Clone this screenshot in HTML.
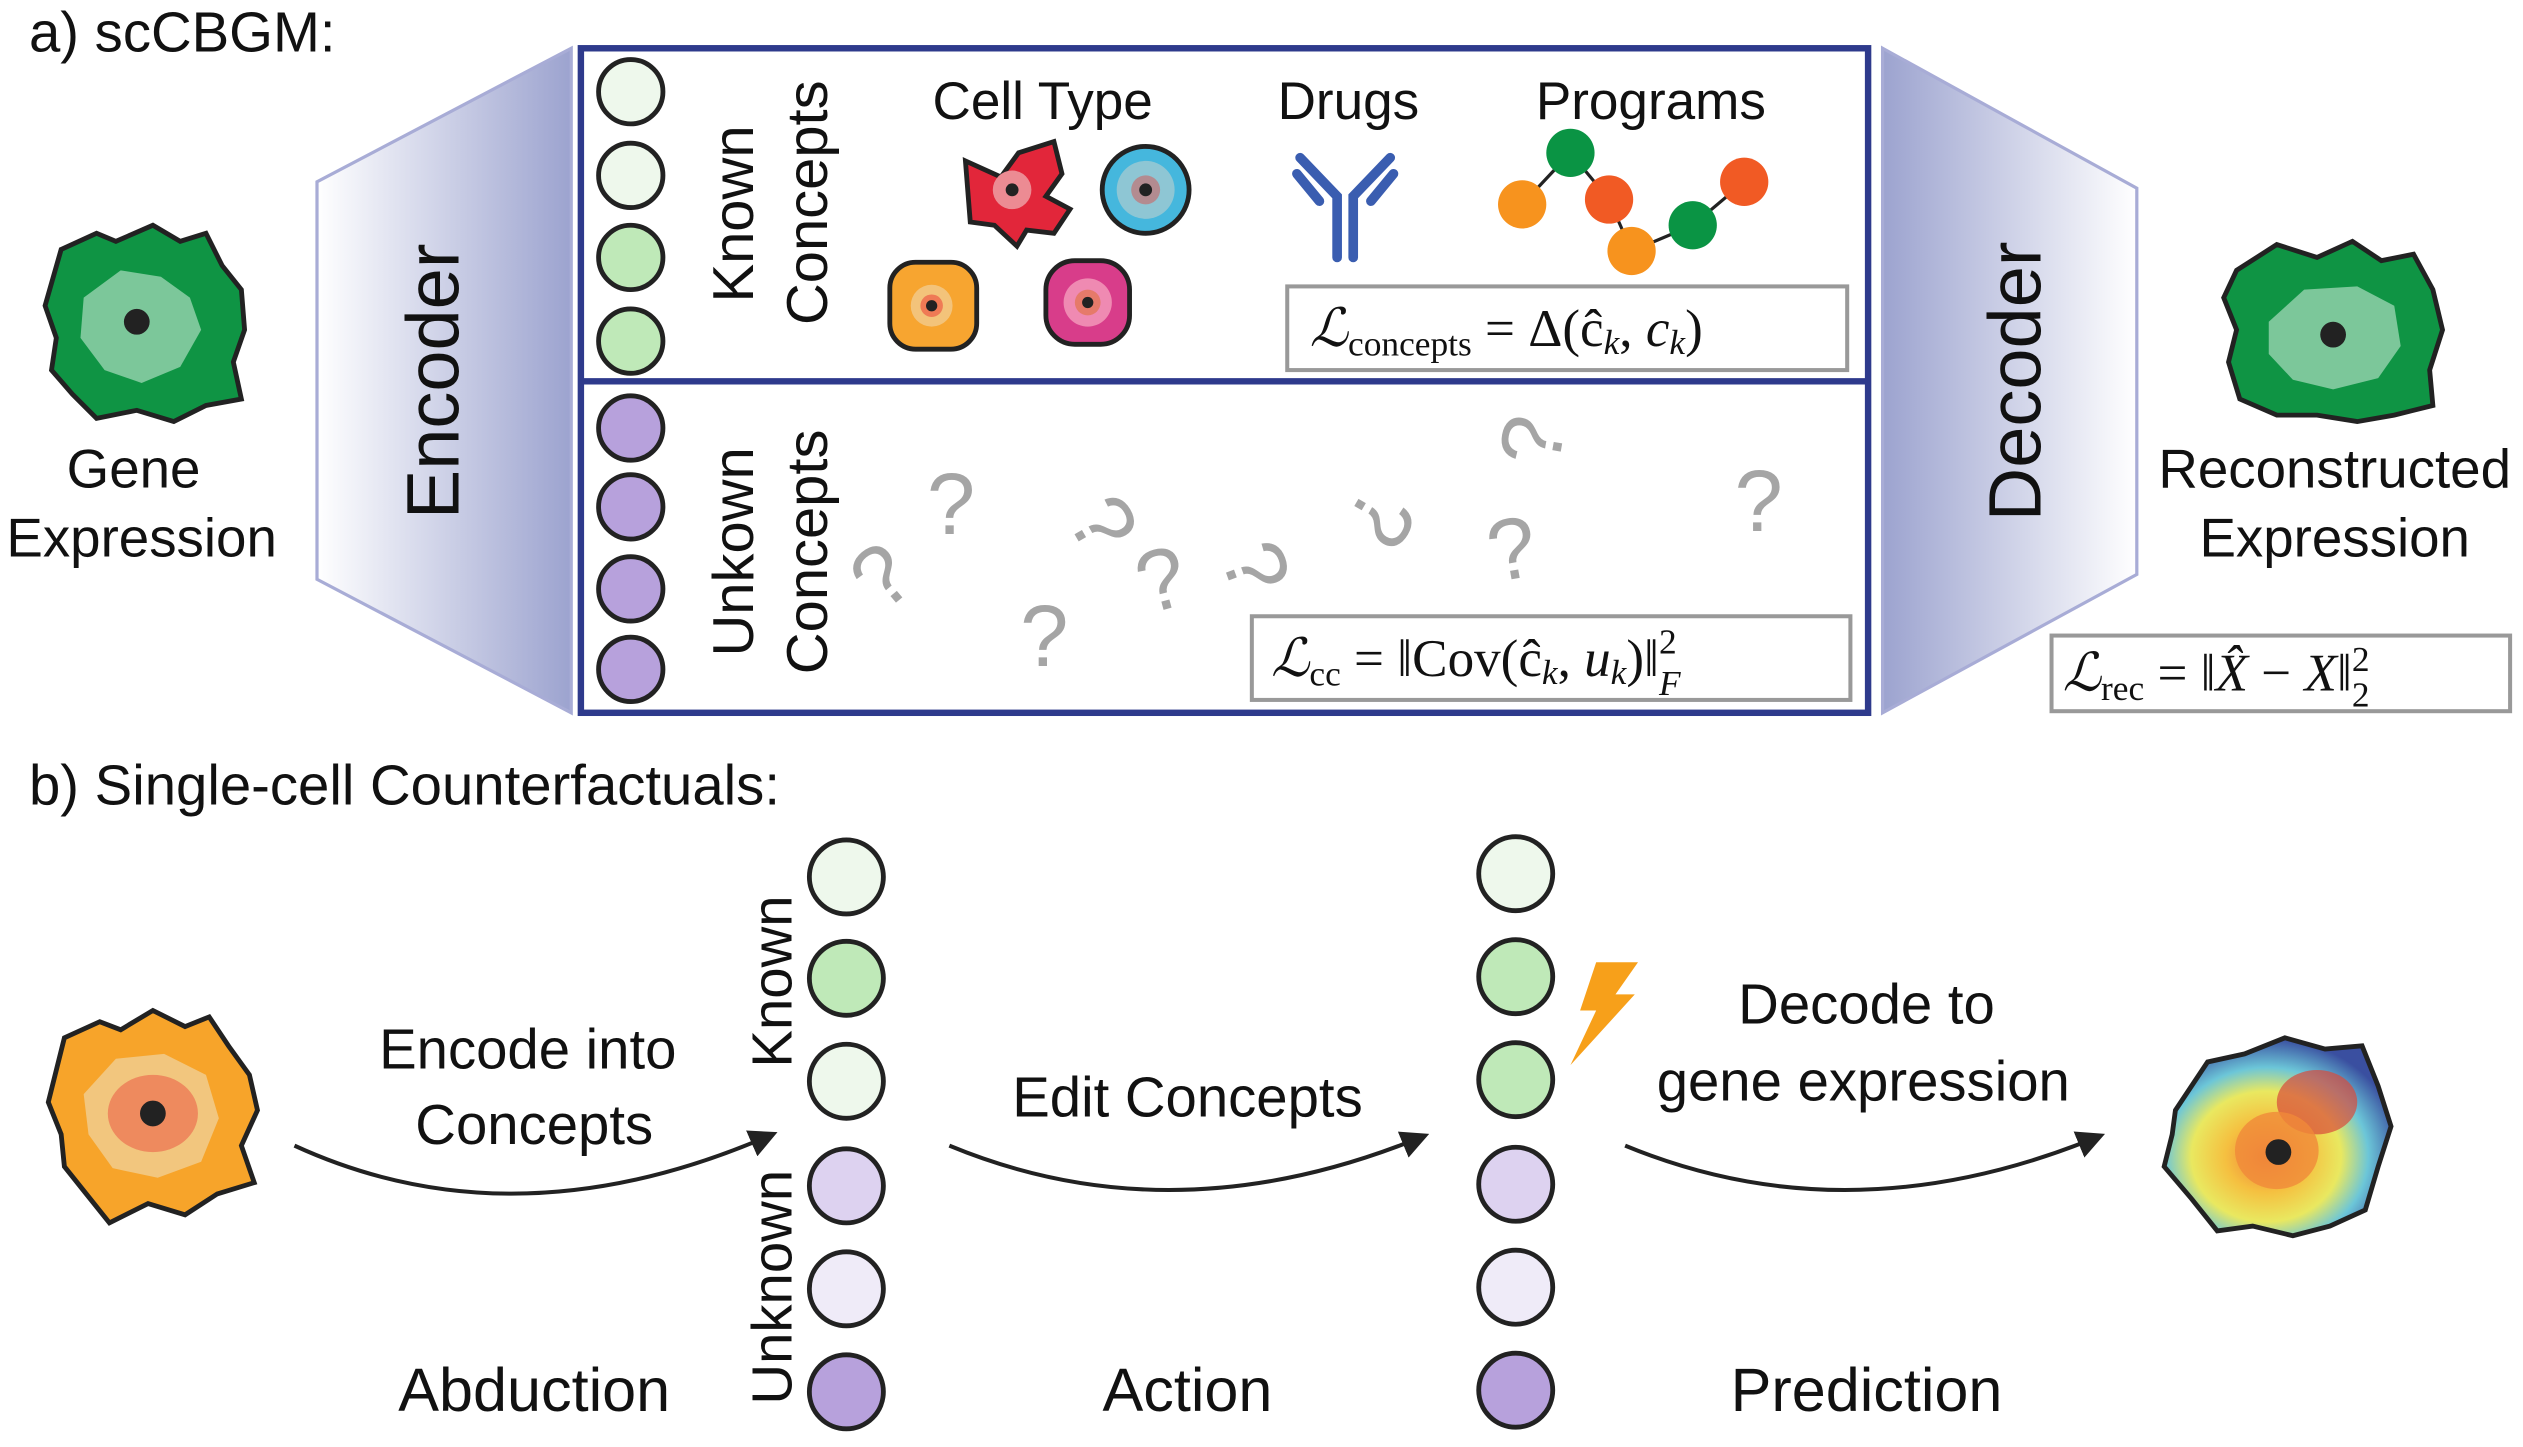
<!DOCTYPE html>
<html><head><meta charset="utf-8"><style>html,body{margin:0;padding:0;background:#fff}svg{display:block}</style></head>
<body>
<svg width="2523" height="1447" viewBox="0 0 1568 899.3" xmlns="http://www.w3.org/2000/svg" font-family="Liberation Sans, sans-serif">
<defs>
<linearGradient id="enc" x1="0" x2="1" y1="0" y2="0"><stop offset="0" stop-color="#fff"/><stop offset="1" stop-color="#9ca3cf"/></linearGradient>
<linearGradient id="dec" x1="1" x2="0" y1="0" y2="0"><stop offset="0" stop-color="#fff"/><stop offset="1" stop-color="#9ca3cf"/></linearGradient>
<radialGradient id="rb" cx="0.45" cy="0.6" r="0.6"><stop offset="0" stop-color="#f07a3a"/><stop offset="0.3" stop-color="#f5c040"/><stop offset="0.55" stop-color="#e9e860"/><stop offset="0.75" stop-color="#6cc6d8"/><stop offset="1" stop-color="#3a4fa0"/></radialGradient>
<marker id="ah" viewBox="0 0 10 10" refX="8" refY="5" markerWidth="7" markerHeight="7" orient="auto"><path d="M0,0 L10,5 L0,10 z" fill="#222"/></marker>
</defs>
<style>
.t{fill:#111}
.c{stroke:#222;stroke-width:3}
.q{font-size:54px;fill:#a5a5a5;font-family:"Liberation Sans",sans-serif}
.m{font-family:"Liberation Serif",serif;font-style:italic;font-size:33px;fill:#111}
</style>
<text x="18" y="32" font-size="35" class="t">a) scCBGM:</text>
<polygon points="197,113 355,30 355,443 197,360" fill="url(#enc)" stroke="#a8acd6" stroke-width="2"/>
<text transform="translate(285,237) rotate(-90)" text-anchor="middle" font-size="46" class="t">Encoder</text>
<polygon points="1170,30 1328,117 1328,357 1170,443" fill="url(#dec)" stroke="#a8acd6" stroke-width="2"/>
<text transform="translate(1268,237) rotate(-90)" text-anchor="middle" font-size="46" class="t">Decoder</text>
<rect x="361" y="30" width="800" height="413" fill="none" stroke="#2e3a8c" stroke-width="4"/>
<line x1="361" y1="237" x2="1161" y2="237" stroke="#2e3a8c" stroke-width="4"/>
<g class="c">
<circle cx="392" cy="57" r="20" fill="#eef8ec"/><circle cx="392" cy="109" r="20" fill="#eef8ec"/>
<circle cx="392" cy="160" r="20" fill="#bfe9b8"/><circle cx="392" cy="212" r="20" fill="#bfe9b8"/>
<circle cx="392" cy="266" r="20" fill="#b7a1dc"/><circle cx="392" cy="315" r="20" fill="#b7a1dc"/>
<circle cx="392" cy="366" r="20" fill="#b7a1dc"/><circle cx="392" cy="416" r="20" fill="#b7a1dc"/>
</g>
<text transform="translate(468,133) rotate(-90)" text-anchor="middle" font-size="36" class="t">Known</text>
<text transform="translate(514,126) rotate(-90)" text-anchor="middle" font-size="36" class="t">Concepts</text>
<text transform="translate(468,343) rotate(-90)" text-anchor="middle" font-size="36" class="t">Unkown</text>
<text transform="translate(514,343) rotate(-90)" text-anchor="middle" font-size="36" class="t">Concepts</text>
<text x="648" y="74" text-anchor="middle" font-size="33" class="t">Cell Type</text>
<text x="838" y="74" text-anchor="middle" font-size="33" class="t">Drugs</text>
<text x="1026" y="74" text-anchor="middle" font-size="33" class="t">Programs</text>
<path d="M600,100 L622,110 L633,95 L655,88 L660,108 L650,122 L665,130 L655,145 L638,143 L632,153 L618,140 L603,138 Z" fill="#e2263a" stroke="#222" stroke-width="3"/>
<circle cx="629" cy="118" r="12" fill="#ec8b93"/><circle cx="629" cy="118" r="4" fill="#222"/>
<circle cx="712" cy="118" r="27" fill="#45b7dd" stroke="#222" stroke-width="3"/><circle cx="712" cy="118" r="18" fill="#8ec6d4"/><circle cx="712" cy="118" r="9" fill="#b38b90"/><circle cx="712" cy="118" r="4" fill="#222"/>
<rect x="553" y="163" width="54" height="54" rx="16" fill="#f7a530" stroke="#222" stroke-width="3"/><circle cx="579" cy="190" r="13" fill="#f3c37a"/><circle cx="579" cy="190" r="7" fill="#ef7a55"/><circle cx="579" cy="190" r="3.5" fill="#222"/>
<rect x="650" y="162" width="52" height="52" rx="18" fill="#d83d8a" stroke="#222" stroke-width="3"/><circle cx="676" cy="188" r="15" fill="#ef8ab2"/><circle cx="676" cy="188" r="8" fill="#e67a6a"/><circle cx="676" cy="188" r="3.5" fill="#222"/>
<g stroke="#3a5db0" stroke-width="6" stroke-linecap="round" fill="none"><path d="M831,160 L831,122 L808,98"/><path d="M841,160 L841,122 L864,98"/><path d="M820,125 L806,108"/><path d="M852,125 L866,108"/></g>
<g stroke="#222" stroke-width="2"><line x1="946" y1="127" x2="976" y2="95"/><line x1="976" y1="95" x2="1000" y2="124"/><line x1="1000" y1="124" x2="1014" y2="156"/><line x1="1014" y1="156" x2="1052" y2="140"/><line x1="1052" y1="140" x2="1084" y2="113"/></g>
<circle cx="946" cy="127" r="15" fill="#f7931e"/><circle cx="976" cy="95" r="15" fill="#0a9444"/><circle cx="1000" cy="124" r="15" fill="#f15a24"/><circle cx="1014" cy="156" r="15" fill="#f7931e"/><circle cx="1052" cy="140" r="15" fill="#0a9444"/><circle cx="1084" cy="113" r="15" fill="#f15a24"/>
<rect x="800" y="178" width="348" height="52" fill="#fff" stroke="#999" stroke-width="2.5"/>
<text x="814" y="215" class="m">ℒ<tspan font-size="22" font-style="normal" dy="6">concepts</tspan><tspan dy="-6" font-style="normal"> = Δ(ĉ</tspan><tspan font-size="22" dy="5">k</tspan><tspan dy="-5" font-style="normal">, </tspan>c<tspan font-size="22" dy="5">k</tspan><tspan dy="-5" font-style="normal">)</tspan></text>
<rect x="778" y="383" width="372" height="52" fill="#fff" stroke="#999" stroke-width="2.5"/>
<text x="790" y="420" class="m">ℒ<tspan font-size="22" font-style="normal" dy="6">cc</tspan><tspan dy="-6" font-style="normal"> = ‖Cov(ĉ</tspan><tspan font-size="22" dy="5">k</tspan><tspan dy="-5" font-style="normal">, </tspan>u<tspan font-size="22" dy="5">k</tspan><tspan dy="-5" font-style="normal">)‖</tspan><tspan font-size="22" dy="-14" font-style="normal">2</tspan><tspan font-size="22" dx="-11" dy="26">F</tspan></text>
<rect x="1275" y="395" width="285" height="47" fill="#fff" stroke="#999" stroke-width="2.5"/>
<text x="1282" y="429" class="m">ℒ<tspan font-size="22" font-style="normal" dy="6">rec</tspan><tspan dy="-6" font-style="normal"> = ‖</tspan>X̂<tspan font-style="normal"> − </tspan>X<tspan font-style="normal">‖</tspan><tspan font-size="22" dy="-12" font-style="normal">2</tspan><tspan font-size="22" dx="-11" dy="22" font-style="normal">2</tspan></text>
<text x="576" y="332" class="q">?</text>
<text transform="translate(662,322) rotate(60)" class="q">?</text>
<text transform="translate(758,345) rotate(70)" class="q">?</text>
<text transform="translate(850,300) rotate(120)" class="q">?</text>
<text transform="translate(928,362) rotate(-10)" class="q">?</text>
<text transform="translate(968,292) rotate(-80)" class="q">?</text>
<text x="1078" y="330" class="q">?</text>
<text transform="translate(548,382) rotate(-40)" class="q">?</text>
<text x="634" y="414" class="q">?</text>
<text transform="translate(712,382) rotate(-15)" class="q">?</text>
<path d="M38,155 L60,145 L72,150 L95,140 L112,150 L128,145 L138,165 L150,180 L152,205 L145,225 L150,248 L128,252 L108,262 L85,255 L60,260 L45,245 L32,230 L35,210 L28,190 Z" fill="#0f9444" stroke="#222" stroke-width="3"/>
<path d="M52,185 L75,168 L100,172 L118,185 L125,205 L112,228 L88,238 L65,230 L50,210 Z" fill="#7cc79a"/>
<circle cx="85" cy="200" r="8" fill="#222"/>
<text x="83" y="303" text-anchor="middle" font-size="34" class="t">Gene</text>
<text x="88" y="346" text-anchor="middle" font-size="34" class="t">Expression</text>
<path d="M1390,168 L1415,152 L1440,160 L1462,150 L1480,162 L1500,158 L1512,180 L1518,205 L1510,230 L1512,252 L1488,258 L1465,262 L1440,258 L1415,258 L1392,248 L1385,225 L1390,205 L1382,185 Z" fill="#0f9444" stroke="#222" stroke-width="3"/>
<path d="M1410,200 L1432,180 L1465,178 L1488,190 L1492,215 L1478,235 L1450,242 L1425,236 L1410,220 Z" fill="#7cc79a"/>
<circle cx="1450" cy="208" r="8" fill="#222"/>
<text x="1451" y="303" text-anchor="middle" font-size="34" class="t">Reconstructed</text>
<text x="1451" y="346" text-anchor="middle" font-size="34" class="t">Expression</text>
<text x="18" y="500" font-size="35" class="t">b) Single-cell Counterfactuals:</text>
<path d="M40,645 L62,635 L75,640 L95,628 L115,638 L130,632 L142,650 L155,668 L160,690 L150,712 L158,735 L135,742 L115,755 L92,748 L68,760 L52,740 L40,725 L38,705 L30,685 Z" fill="#f7a42a" stroke="#222" stroke-width="3"/>
<path d="M52,680 L72,658 L102,655 L128,668 L136,695 L125,722 L98,732 L70,726 L55,705 Z" fill="#f2c67e"/>
<ellipse cx="95" cy="692" rx="28" ry="24" fill="#ee8a5e"/>
<circle cx="95" cy="692" r="8" fill="#222"/>
<path d="M1352,690 L1372,660 L1395,655 L1420,645 L1445,652 L1468,650 L1478,675 L1486,700 L1478,725 L1470,752 L1448,762 L1425,768 L1400,762 L1378,765 L1362,745 L1345,725 L1350,705 Z" fill="url(#rb)" stroke="#222" stroke-width="3"/>
<ellipse cx="1440" cy="685" rx="25" ry="20" fill="#d94a3a" opacity="0.7"/>
<ellipse cx="1415" cy="715" rx="26" ry="24" fill="#f08a3a" opacity="0.8"/>
<circle cx="1416" cy="716" r="8" fill="#222"/>
<g fill="none" stroke="#222" stroke-width="2.5" marker-end="url(#ah)">
<path d="M183,712 Q320,775 480,705"/>
<path d="M590,712 Q730,770 885,706"/>
<path d="M1010,712 Q1150,770 1305,706"/>
</g>
<text x="328" y="664" text-anchor="middle" font-size="35" class="t">Encode into</text>
<text x="332" y="711" text-anchor="middle" font-size="35" class="t">Concepts</text>
<text x="738" y="694" text-anchor="middle" font-size="35" class="t">Edit Concepts</text>
<text x="1160" y="636" text-anchor="middle" font-size="35" class="t">Decode to</text>
<text x="1158" y="684" text-anchor="middle" font-size="35" class="t">gene expression</text>
<text x="332" y="877" text-anchor="middle" font-size="38" class="t">Abduction</text>
<text x="738" y="877" text-anchor="middle" font-size="38" class="t">Action</text>
<text x="1160" y="877" text-anchor="middle" font-size="38" class="t">Prediction</text>
<text transform="translate(492,610) rotate(-90)" text-anchor="middle" font-size="35" class="t">Known</text>
<text transform="translate(492,800) rotate(-90)" text-anchor="middle" font-size="35" class="t">Unknown</text>
<g class="c">
<circle cx="526" cy="545" r="23" fill="#eef8ec"/><circle cx="526" cy="608" r="23" fill="#bfe9b8"/><circle cx="526" cy="672" r="23" fill="#eef8ec"/>
<circle cx="526" cy="737" r="23" fill="#ddd2f0"/><circle cx="526" cy="801" r="23" fill="#efebf8"/><circle cx="526" cy="865" r="23" fill="#b7a1dc"/>
<circle cx="942" cy="543" r="23" fill="#eef8ec"/><circle cx="942" cy="607" r="23" fill="#bfe9b8"/><circle cx="942" cy="671" r="23" fill="#bfe9b8"/>
<circle cx="942" cy="736" r="23" fill="#ddd2f0"/><circle cx="942" cy="800" r="23" fill="#efebf8"/><circle cx="942" cy="864" r="23" fill="#b7a1dc"/>
</g>
<path d="M992,598 L1018,598 L1004,618 L1016,618 L976,662 L992,628 L982,628 Z" fill="#f7a01a"/>
</svg>
</body></html>
